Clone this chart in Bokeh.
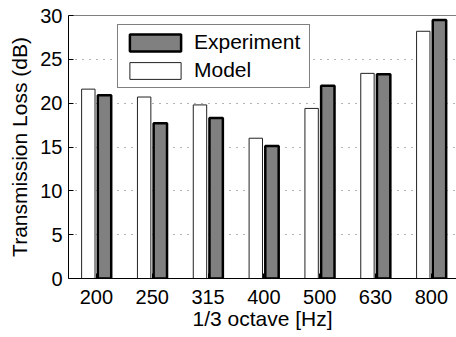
import numpy as np
from bokeh.plotting import figure
from bokeh.models import (ColumnDataSource, FixedTicker, Legend,
                          LegendItem, Range1d, Span)
from bokeh.transform import dodge
from bokeh.embed import file_html
from bokeh.resources import INLINE

# ---- data ----
bands = ["200", "250", "315", "400", "500", "630", "800"]
model = [21.6, 20.7, 19.8, 16.0, 19.4, 23.4, 28.2]
experiment = [20.9, 17.7, 18.3, 15.1, 22.0, 23.3, 29.5]
y_ticks = [0, 5, 10, 15, 20, 25, 30]

pos = list(range(1, len(bands) + 1))
src = ColumnDataSource(dict(x=pos, model=model, experiment=experiment))

FONT = "Liberation Sans"

p = figure(width=456, height=337,
           x_range=Range1d(0.5, 7.45), y_range=Range1d(0, 30),
           output_backend="svg", toolbar_location=None,
           min_border_left=68, min_border_right=0,
           min_border_top=15, min_border_bottom=59)
p.outline_line_color = None
p.background_fill_color = "white"
p.border_fill_color = "white"

r_model = p.vbar(x=dodge("x", -0.145), top="model", bottom=0, width=0.24,
                 source=src, fill_color="white", line_color="#222222",
                 line_width=1)
r_exp = p.vbar(x=dodge("x", 0.145), top="experiment", bottom=0, width=0.24,
               source=src, fill_color="#808080", line_color="black",
               line_width=2.5)

# axes
p.xaxis.ticker = FixedTicker(ticks=pos)
p.xaxis.major_label_overrides = {i: b for i, b in zip(pos, bands)}
p.yaxis.ticker = FixedTicker(ticks=y_ticks)
p.xaxis.axis_label = "1/3 octave [Hz]"
p.yaxis.axis_label = "Transmission Loss (dB)"
for ax in (p.xaxis[0], p.yaxis[0]):
    ax.axis_line_color = "black"
    ax.major_tick_line_color = "black"
    ax.major_tick_in = 5
    ax.major_tick_out = 0
    ax.minor_tick_line_color = None
    ax.major_label_text_font = FONT
    ax.major_label_text_font_size = "20px"
    ax.major_label_text_color = "black"
    ax.axis_label_text_font = FONT
    ax.axis_label_text_font_size = "21px"
    ax.axis_label_text_font_style = "normal"
    ax.axis_label_text_color = "black"
p.xaxis.major_label_standoff = 11
p.xaxis.axis_label_standoff = 0
p.yaxis.major_label_standoff = 6
p.yaxis.axis_label_standoff = 6

# top frame line
p.add_layout(Span(location=30, dimension="width", line_color="black",
                  line_width=1))

p.xgrid.grid_line_color = None
p.ygrid.ticker = FixedTicker(ticks=y_ticks)
p.ygrid.grid_line_color = "#666666"
p.ygrid.grid_line_dash = "1 6"
p.ygrid.grid_line_width = 1

legend = Legend(items=[LegendItem(label="Experiment", renderers=[r_exp]),
                       LegendItem(label="Model", renderers=[r_model])],
                location=(49, 190), padding=5, spacing=4, margin=0,
                glyph_width=64, glyph_height=21, label_height=21,
                label_width=110, label_standoff=7,
                label_text_font=FONT, label_text_font_size="21px",
                label_text_color="black",
                border_line_color="black", border_line_width=1,
                background_fill_color="white", background_fill_alpha=1.0)
p.add_layout(legend, "center")

open("out.html", "w").write(file_html(p, INLINE))
